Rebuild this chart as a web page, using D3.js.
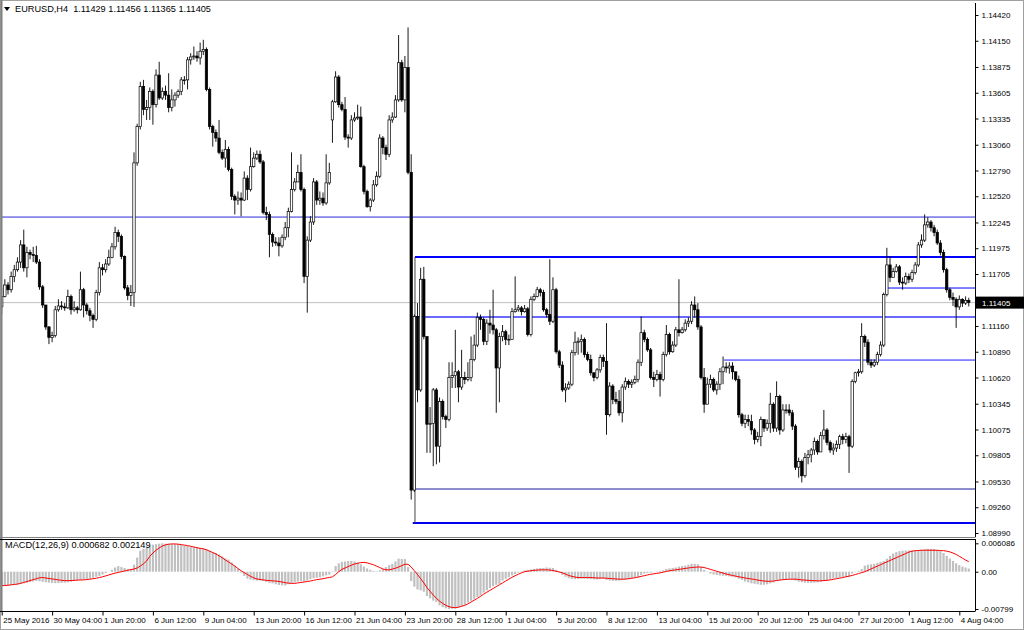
<!DOCTYPE html>
<html>
<head>
<meta charset="utf-8">
<title>EURUSD,H4</title>
<script src="https://cdn.jsdelivr.net/npm/d3@7"></script>
<style>
  body { margin: 0; background: #fff; }
  svg { display: block; font-family: 'Liberation Sans', Arial, sans-serif; }
</style>
</head>
<body>
<svg width="1024" height="630" id="mainsvg"></svg>
<script>
// EURUSD H4, 25 May 2016 12:00 -> 4 Aug 2016 16:00, prices in pips (1e-4)
const firstOpen = 11136;
const gapOpens = {105: 11332};   // Monday 20 Jun gap

const closes = [
  11147,11159,11154,11168,11175,11183,11201,11177,11193,11191,
  11190,11183,11157,11138,11115,11104,11106,11133,11137,11136,
  11135,11147,11133,11135,11133,11154,11138,11132,11127,11123,
  11151,11177,11175,11181,11188,11199,11214,11210,11189,11156,
  11148,11151,11287,11325,11367,11343,11345,11362,11348,11379,
  11355,11362,11358,11345,11353,11358,11362,11374,11374,11395,
  11398,11399,11397,11404,11406,11364,11325,11319,11313,11298,
  11292,11301,11280,11252,11248,11250,11248,11271,11259,11283,
  11292,11296,11288,11235,11233,11212,11204,11203,11200,11209,
  11219,11236,11259,11267,11277,11259,11168,11206,11225,11267,
  11248,11250,11245,11266,11277,11351,11377,11348,11343,11314,
  11313,11332,11334,11335,11283,11257,11241,11248,11264,11273,
  11313,11303,11296,11332,11335,11353,11392,11353,11387,11277,
  10944,11126,11049,11165,11105,11013,11014,11049,10990,11037,
  11021,11018,11062,11064,11068,11052,11062,11060,11062,11081,
  11096,11125,11123,11100,11119,11117,11112,11072,11105,11110,
  11102,11102,11131,11133,11135,11131,11134,11107,11144,11147,
  11154,11151,11133,11128,11121,11154,11089,11075,11049,11051,
  11055,11088,11099,11100,11102,11086,11081,11067,11062,11070,
  11083,11079,11023,11053,11039,11037,11025,11052,11058,11055,
  11057,11060,11078,11109,11102,11091,11062,11060,11065,11060,
  11086,11107,11089,11096,11112,11109,11112,11119,11121,11138,
  11133,11115,11062,11034,11055,11060,11049,11055,11068,11073,
  11072,11074,11068,11060,11023,11014,11018,11016,11007,10997,
  11000,11018,11009,11014,11034,11009,11042,11007,11028,11028,
  11025,11011,10968,10974,10959,10978,10981,10986,10995,10984,
  11001,11007,10994,10986,10988,10992,11000,10997,11000,10990,
  11058,11067,11068,11105,11099,11078,11075,11078,11086,11096,
  11149,11180,11167,11173,11178,11162,11161,11168,11165,11172,
  11180,11201,11206,11222,11225,11219,11214,11203,11193,11175,
  11154,11146,11144,11136,11144,11140,11142.9,11140.5
];
const highs = [
  11156,11165,11162,11173,11180,11188,11206,11217,11199,11196,
  11199,11200,11186,11159,11138,11116,11110,11137,11144,11142,
  11140,11154,11149,11142,11137,11173,11156,11140,11135,11129,
  11154,11183,11181,11186,11196,11203,11220,11217,11212,11190,
  11159,11159,11298,11328,11372,11374,11353,11366,11364,11385,
  11393,11366,11368,11381,11364,11361,11364,11377,11378,11398,
  11402,11409,11404,11413,11416,11408,11366,11327,11322,11332,
  11301,11311,11304,11282,11254,11257,11256,11278,11274,11303,
  11298,11300,11300,11290,11241,11236,11214,11209,11209,11212,
  11225,11240,11298,11271,11285,11296,11261,11210,11231,11271,
  11269,11257,11256,11296,11287,11353,11383,11379,11351,11356,
  11317,11337,11340,11348,11346,11285,11259,11250,11269,11278,
  11317,11315,11306,11337,11340,11358,11421,11395,11399,11429,
  11296,11128,11140,11177,11178,11083,11031,11051,11051,11041,
  11039,11023,11078,11078,11112,11070,11091,11068,11078,11105,
  11107,11130,11128,11125,11123,11133,11154,11114,11109,11117,
  11112,11107,11135,11168,11138,11137,11138,11136,11147,11150,
  11157,11156,11154,11135,11186,11167,11156,11091,11079,11056,
  11058,11091,11110,11104,11107,11104,11089,11086,11067,11072,
  11086,11086,11119,11057,11055,11047,11049,11055,11062,11060,
  11060,11064,11081,11126,11112,11104,11093,11068,11070,11068,
  11089,11117,11109,11100,11115,11165,11115,11123,11125,11142,
  11147,11140,11117,11072,11062,11065,11062,11058,11072,11084,
  11078,11078,11078,11066,11064,11025,11023,11023,11023,11009,
  11005,11021,11015,11018,11046,11036,11058,11044,11034,11034,
  11034,11028,11013,10978,10976,10983,10986,10988,10999,10997,
  11005,11028,11009,10996,10993,10996,11002,11003,11004,11002,
  11060,11068,11071,11119,11107,11102,11081,11081,11089,11100,
  11151,11198,11189,11177,11181,11180,11167,11172,11171,11175,
  11183,11204,11212,11233,11230,11227,11222,11217,11206,11196,
  11177,11156,11151,11146,11148,11145,11147,11145.6
];
const lows = [
  11128,11146,11149,11151,11162,11173,11177,11173,11167,11186,
  11183,11181,11154,11135,11112,11097,11099,11104,11131,11133,
  11132,11134,11128,11131,11129,11132,11125,11128,11121,11114,
  11121,11148,11169,11172,11179,11187,11196,11204,11186,11154,
  11143,11137,11136,11284,11322,11337,11332,11332,11327,11345,
  11353,11353,11353,11340,11341,11346,11355,11358,11369,11364,
  11390,11395,11393,11390,11400,11362,11322,11304,11309,11296,
  11290,11282,11278,11248,11233,11243,11231,11247,11248,11257,
  11282,11290,11286,11233,11227,11188,11199,11200,11189,11198,
  11206,11209,11235,11257,11267,11257,11161,11130,11204,11222,
  11243,11243,11242,11243,11264,11308,11350,11345,11341,11311,
  11303,11311,11330,11332,11282,11254,11240,11236,11246,11262,
  11271,11296,11290,11293,11329,11334,11351,11351,11340,11275,
  10934,10942,11036,11047,11102,10983,10983,10969,10971,10973,
  11018,11009,11016,11051,11051,11036,11049,11055,11058,11058,
  11079,11094,11112,11096,11096,11108,11107,11025,11036,11100,
  11096,11096,11102,11130,11131,11127,11130,11105,11105,11142,
  11146,11147,11131,11125,11117,11119,11087,11072,11047,11036,
  11049,11053,11085,11086,11088,11083,11079,11064,11058,11060,
  11067,11073,11002,11021,11034,11034,11022,11015,11049,11051,
  11051,11055,11057,11074,11099,11089,11060,11052,11058,11042,
  11058,11084,11086,11088,11094,11105,11108,11110,11115,11118,
  11125,11112,11060,11025,11047,11051,11047,11044,11049,11055,
  11067,11066,11060,11058,11020,11011,11009,11011,11002,10992,
  10994,10990,11005,11006,11004,11005,11005,11002,11005,11024,
  11022,11007,10965,10957,10952,10957,10971,10973,10981,10981,
  10986,10997,10991,10983,10981,10984,10987,10992,10993,10962,
  10988,11056,11063,11066,11094,11075,11072,11073,11075,11084,
  11094,11147,11162,11169,11172,11159,11154,11159,11161,11162,
  11170,11178,11198,11204,11219,11215,11210,11201,11190,11172,
  11151,11143,11137,11114,11133,11136,11138,11136.5
];

// MACD(12,26,9) main (histogram) and signal, in 1e-5
const macdMain = [
  -300,-295,-290,-285,-280,-275,-260,-250,-240,-225,
  -210,-200,-205,-215,-225,-235,-240,-245,-245,-240,
  -235,-225,-215,-200,-190,-180,-170,-160,-150,-130,
  -110,-90,-60,-30,0,40,90,120,100,80,
  60,60,150,300,450,490,520,560,580,590,
  600,608.6,600,595,590,590,585,570,560,550,
  540,530,520,510,500,480,450,420,400,370,
  330,290,260,200,130,60,-20,-90,-150,-170,
  -180,-190,-190,-200,-220,-240,-250,-270,-285,-295,
  -295,-270,-250,-230,-210,-200,-210,-190,-160,-140,
  -130,-120,-100,-80,-60,10,120,180,210,220,
  230,230,220,200,160,110,70,40,20,10,
  30,60,100,140,170,220,280,270,270,100,
  -200,-320,-380,-400,-430,-520,-570,-620,-650,-720,
  -760,-785,-799,-795,-790,-770,-740,-710,-660,-620,
  -580,-540,-510,-450,-400,-350,-310,-280,-260,-190,
  -150,-120,-80,-50,-20,10,30,40,50,60,
  70,80,80,90,85,80,40,-20,-70,-110,
  -140,-155,-160,-155,-150,-150,-155,-160,-165,-165,
  -160,-155,-175,-190,-195,-195,-190,-180,-170,-160,
  -140,-120,-110,-70,-40,-30,-20,-10,10,20,
  30,60,70,80,90,110,120,130,150,170,
  170,160,100,40,-10,-40,-60,-70,-80,-85,
  -90,-100,-110,-120,-150,-180,-210,-230,-250,-260,
  -270,-280,-280,-270,-250,-230,-200,-180,-170,-160,
  -160,-175,-190,-215,-225,-235,-240,-240,-235,-230,
  -215,-200,-180,-160,-150,-140,-130,-120,-110,-100,
  -40,-10,20,60,130,150,160,170,190,210,
  230,280,340,390,420,440,450,455,455,455,
  460,465,470,480,490,490,485,470,450,400,
  340,280,230,180,140,110,90,68.2
];
const macdSignal = [
  -300,-295,-290,-282,-273,-265,-250,-230,-210,-190,
  -170,-150,-130,-125,-135,-145,-155,-165,-175,-185,
  -190,-192,-190,-185,-180,-178,-175,-170,-160,-150,
  -140,-125,-110,-90,-70,-50,-30,-15,0,15,
  30,45,57,80,120,170,230,330,400,460,
  510,550,575,590,595,595,590,580,570,560,
  545,530,515,500,490,470,440,410,380,340,
  300,250,210,165,120,70,20,-20,-60,-100,
  -130,-155,-165,-175,-185,-190,-195,-200,-210,-220,
  -235,-245,-250,-250,-240,-230,-220,-210,-200,-185,
  -170,-160,-150,-135,-125,-110,-60,0,50,80,
  110,140,165,180,195,200,190,170,150,120,
  90,60,40,40,55,75,100,130,160,160,
  100,20,-60,-150,-240,-340,-420,-500,-570,-630,
  -680,-720,-750,-765,-770,-760,-740,-720,-690,-650,
  -610,-570,-530,-480,-440,-400,-360,-320,-280,-240,
  -200,-160,-120,-85,-55,-25,0,10,20,30,
  35,40,40,40,35,25,10,-5,-25,-50,
  -80,-100,-115,-125,-125,-125,-125,-125,-130,-135,
  -135,-135,-140,-145,-150,-155,-160,-160,-158,-150,
  -140,-130,-115,-100,-85,-70,-55,-45,-35,-25,
  -10,5,20,30,40,50,60,70,80,90,
  95,100,100,90,70,50,30,10,-10,-30,
  -50,-65,-80,-95,-110,-120,-135,-145,-155,-165,
  -180,-190,-200,-205,-205,-200,-190,-180,-170,-165,
  -160,-160,-160,-165,-175,-180,-185,-190,-192,-195,
  -195,-190,-185,-175,-165,-150,-140,-125,-110,-95,
  -80,-60,-40,-20,0,30,60,90,120,150,
  180,210,240,270,300,330,360,390,420,440,
  450,455,460,460,460,460,460,458,455,450,
  440,425,400,370,330,290,250,214.9
];

// 1.11435 sits under the current-price tag, so it is not labelled
const priceTicks = [1.14420,1.14150,1.13875,1.13605,1.13335,1.13060,1.12790,1.12520,1.12245,
  1.11975,1.11705,1.11160,1.10890,1.10620,1.10345,1.10075,1.09805,1.09530,1.09260,1.08990];
const macdTicks = [0.006086, 0, -0.00799];
const macdTickLabels = ['0.006086', '0.00', '-0.00799'];
const timeLabels = ['25 May 2016','30 May 04:00','1 Jun 20:00','6 Jun 12:00','9 Jun 04:00',
  '13 Jun 20:00','16 Jun 12:00','21 Jun 04:00','23 Jun 20:00','28 Jun 12:00','1 Jul 04:00',
  '5 Jul 20:00','8 Jul 12:00','13 Jul 04:00','15 Jul 20:00','20 Jul 12:00','25 Jul 04:00',
  '27 Jul 20:00','1 Aug 12:00','4 Aug 04:00'];
const barsPerLabel = 16;

// drawn horizontal lines: price and first bar
const levelPrices = [1.12302, 1.11883, 1.11558, 1.11254, 1.10803, 1.09451, 1.09095];
const levelStart  = [0, 131.2, 281.4, 131.2, 229.3, 129.6, 130.5];
const levelWidth  = [1, 2, 1, 2, 1, 1, 2];
const levelColor  = ['#2a2ad8', '#0000ff', '#0000ff', '#6a6aff', '#1a1aff', '#1a1a9a', '#0000ee'];
const boxEdge = {bar: 131.2, top: 1.11883, bottom: 1.09095};

const headerText = 'EURUSD,H4  1.11429 1.11456 1.11365 1.11405';
const macdText = 'MACD(12,26,9) 0.000682 0.002149';

const svg = d3.select('#mainsvg');
const plot = {left: 2, right: 975, top: 3, bottom: 537};
const macdBox = {top: 539, bottom: 611};

const candles = closes.map((c, i) => {
  const o = i === 0 ? firstOpen : (gapOpens[i] !== undefined ? gapOpens[i] : closes[i - 1]);
  return {i, o: o / 1e4, h: highs[i] / 1e4, l: lows[i] / 1e4, c: c / 1e4};
});

const xScale = d3.scaleLinear().domain([0, 307]).range([1.7, 1.7 + 307 * 3.15]);
const yScale = d3.scaleLinear().domain([1.0899, 1.1442]).range([533, 15]);
const mScale = d3.scaleLinear().domain([-0.00799, 0.006086]).range([609, 543.3]);

svg.append('rect').attr('width', 1024).attr('height', 630).attr('fill', '#fff');

svg.append('defs').append('clipPath').attr('id', 'clipMain')
  .append('rect').attr('x', plot.left).attr('y', plot.top)
  .attr('width', plot.right - plot.left).attr('height', plot.bottom - plot.top);

// current price line
const last = candles[candles.length - 1];
svg.append('line')
  .attr('x1', plot.left).attr('x2', plot.right)
  .attr('y1', yScale(last.c)).attr('y2', yScale(last.c))
  .attr('stroke', '#c0c0c0').attr('stroke-width', 1);

// drawn lines
const gLines = svg.append('g');
levelPrices.forEach((p, k) => {
  gLines.append('line')
    .attr('x1', xScale(levelStart[k])).attr('x2', plot.right)
    .attr('y1', yScale(p)).attr('y2', yScale(p))
    .attr('stroke', levelColor[k]).attr('stroke-width', levelWidth[k]);
});
gLines.append('line')
  .attr('x1', xScale(boxEdge.bar)).attr('x2', xScale(boxEdge.bar))
  .attr('y1', yScale(boxEdge.top)).attr('y2', yScale(boxEdge.bottom))
  .attr('stroke', '#444').attr('stroke-width', 1);

// candles
const gC = svg.append('g').attr('clip-path', 'url(#clipMain)');
const bodyW = 2.4;
gC.selectAll('line.wick').data(candles).join('line').attr('class', 'wick')
  .attr('x1', d => xScale(d.i)).attr('x2', d => xScale(d.i))
  .attr('y1', d => yScale(d.h)).attr('y2', d => yScale(d.l))
  .attr('stroke', '#000').attr('stroke-width', 0.9);
gC.selectAll('rect.body').data(candles).join('rect').attr('class', 'body')
  .attr('x', d => xScale(d.i) - bodyW / 2)
  .attr('y', d => yScale(Math.max(d.o, d.c)))
  .attr('width', bodyW)
  .attr('height', d => Math.max(0.8, Math.abs(yScale(d.o) - yScale(d.c))))
  .attr('fill', d => d.c >= d.o ? '#fff' : '#000')
  .attr('stroke', '#000').attr('stroke-width', 0.7);

// MACD
const gM = svg.append('g');
gM.selectAll('rect').data(macdMain).join('rect')
  .attr('x', (d, i) => xScale(i) - 1.1)
  .attr('y', d => Math.min(mScale(d / 1e5), mScale(0)))
  .attr('width', 2.2)
  .attr('height', d => Math.abs(mScale(d / 1e5) - mScale(0)))
  .attr('fill', '#c0c0c0');
gM.append('path')
  .datum(macdSignal)
  .attr('d', d3.line().x((d, i) => xScale(i)).y(d => mScale(d / 1e5)))
  .attr('fill', 'none').attr('stroke', '#ff0000').attr('stroke-width', 1);

// frames
svg.append('rect').attr('x', 0.5).attr('y', 0.5).attr('width', 1023).attr('height', 629)
  .attr('fill', 'none').attr('stroke', '#a0a0a0');
svg.append('line').attr('x1', 1.5).attr('x2', 1.5).attr('y1', 0).attr('y2', 612)
  .attr('stroke', '#808080').attr('stroke-width', 2);
svg.append('line').attr('x1', 0).attr('x2', 975.5).attr('y1', plot.bottom + 0.5).attr('y2', plot.bottom + 0.5)
  .attr('stroke', '#808080');
svg.append('line').attr('x1', 0).attr('x2', 975.5).attr('y1', macdBox.top + 0.5).attr('y2', macdBox.top + 0.5)
  .attr('stroke', '#000');

// price axis
const yAxis = d3.axisRight(yScale).tickValues(priceTicks).tickSize(3).tickPadding(3)
  .tickFormat(d3.format('.5f'));
const gy = svg.append('g').attr('transform', `translate(${plot.right + 0.5},0)`).call(yAxis);
gy.select('.domain').attr('d', `M0,${plot.top}V${plot.bottom}`).attr('stroke', '#000');
gy.selectAll('text').attr('font-size', 8).attr('font-family', "'Liberation Sans', Arial, sans-serif").attr('fill', '#000');

// current price tag
svg.append('rect').attr('x', plot.right + 1).attr('y', yScale(last.c) - 6)
  .attr('width', 1024 - plot.right - 1).attr('height', 12).attr('fill', '#000');
svg.append('text').attr('x', plot.right + 7).attr('y', yScale(last.c) + 3)
  .attr('font-size', 8).attr('fill', '#fff').text(d3.format('.5f')(last.c));

// MACD axis
const mAxis = d3.axisRight(mScale).tickValues(macdTicks).tickSize(3).tickPadding(3)
  .tickFormat((d, k) => macdTickLabels[k]);
const gm = svg.append('g').attr('transform', `translate(${plot.right + 0.5},0)`).call(mAxis);
gm.select('.domain').attr('d', `M0,${macdBox.top}V${macdBox.bottom}`).attr('stroke', '#000');
gm.selectAll('text').attr('font-size', 8).attr('fill', '#000');

// time axis
const timeTicks = timeLabels.map((t, k) => k * barsPerLabel);
const xAxis = d3.axisBottom(xScale).tickValues(timeTicks).tickSize(4).tickPadding(2)
  .tickFormat((d, k) => timeLabels[k]);
const gx = svg.append('g').attr('transform', `translate(0,${macdBox.bottom + 0.5})`).call(xAxis);
gx.select('.domain').attr('d', `M0,0H${plot.right + 0.5}`).attr('stroke', '#000');
gx.selectAll('text').attr('font-size', 8).attr('fill', '#000')
  .attr('text-anchor', 'start').attr('dx', 1);

// header and indicator labels
svg.append('path').attr('d', 'M4,7 L10,7 L7,11 Z').attr('fill', '#000');
svg.append('text').attr('x', 15).attr('y', 12).attr('font-size', 9.2).attr('fill', '#000')
  .style('white-space', 'pre').text(headerText);
svg.append('text').attr('x', 5).attr('y', 548).attr('font-size', 9.2).attr('fill', '#000').text(macdText);
</script>
</body>
</html>
